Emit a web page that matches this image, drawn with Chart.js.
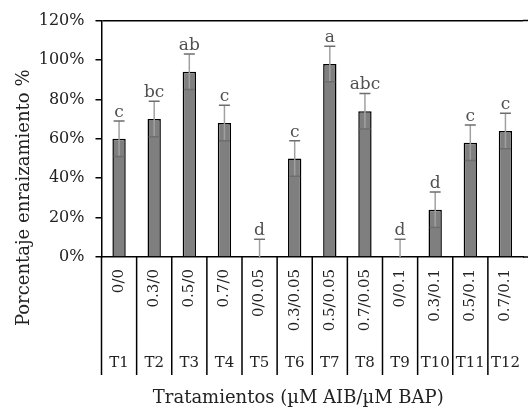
<!DOCTYPE html>
<html>
<head>
<meta charset="utf-8">
<script src="https://cdn.jsdelivr.net/npm/chart.js@4"></script>
<style>
html,body{margin:0;padding:0;background:#fff;}
#wrap{width:528px;height:417px;}
</style>
</head>
<body>
<div id="wrap"><canvas id="c" width="528" height="417"></canvas></div>
<script>
const treatments = ['T1','T2','T3','T4','T5','T6','T7','T8','T9','T10','T11','T12'];
const doses = ['0/0','0.3/0','0.5/0','0.7/0','0/0.05','0.3/0.05','0.5/0.05','0.7/0.05','0/0.1','0.3/0.1','0.5/0.1','0.7/0.1'];
const rooting = [60, 70, 94, 68, 0, 50, 98, 74, 0, 24, 58, 64];
const errors = [9, 9, 9, 9, 9, 9, 9, 9, 9, 9, 9, 9];
const letters = ['c','bc','ab','c','d','c','a','abc','d','d','c','c'];
const yTicks = [0, 20, 40, 60, 80, 100, 120];
const yTitle = 'Porcentaje enraizamiento %';
const xTitle = 'Tratamientos (\u00b5M AIB/\u00b5M BAP)';

const FONT = '"DejaVu Serif", "Liberation Serif", serif';

const excelPlugin = {
  id: 'excelPlugin',
  afterDatasetsDraw(chart) {
    const ctx = chart.ctx;
    const y = chart.scales.y;
    const meta = chart.getDatasetMeta(0);
    ctx.save();
    meta.data.forEach((bar, i) => {
      const cx = bar.x;
      const v = rooting[i], e = errors[i];
      const yTop = y.getPixelForValue(v + e);
      const yLow = y.getPixelForValue(Math.max(0, v - e));
      ctx.strokeStyle = '#a0a0a0';
      ctx.lineWidth = 1.5;
      ctx.beginPath();
      ctx.moveTo(cx, yTop); ctx.lineTo(cx, yLow);
      ctx.stroke();
      ctx.strokeStyle = '#6e6e6e';
      ctx.beginPath();
      ctx.moveTo(cx - 5.5, yTop); ctx.lineTo(cx + 5.5, yTop);
      if (v - e > 0) { ctx.moveTo(cx - 5.5, yLow); ctx.lineTo(cx + 5.5, yLow); }
      ctx.stroke();
      ctx.fillStyle = '#505050';
      ctx.font = '17px ' + FONT;
      ctx.textAlign = 'center';
      ctx.textBaseline = 'alphabetic';
      ctx.fillText(letters[i], cx, yTop - 4);
    });
    ctx.restore();
  },
  afterDraw(chart) {
    const ctx = chart.ctx;
    const x = chart.scales.x;
    const area = chart.chartArea;
    const n = treatments.length;
    const w = (x.getPixelForValue(1) - x.getPixelForValue(0));
    const bottomLines = area.bottom + 118;
    ctx.save();
    ctx.strokeStyle = '#000';
    ctx.lineWidth = 1.5;
    ctx.beginPath();
    for (let i = 0; i < n; i++) {
      const bx = x.getPixelForValue(0) - w / 2 + i * w;
      ctx.moveTo(bx, area.bottom); ctx.lineTo(bx, bottomLines);
    }
    ctx.moveTo(area.right, area.top); ctx.lineTo(chart.width, area.top);
    ctx.moveTo(area.right, area.bottom); ctx.lineTo(chart.width, area.bottom);
    ctx.stroke();

    ctx.fillStyle = '#222';
    ctx.font = '15px ' + FONT;
    for (let i = 0; i < n; i++) {
      const cx = x.getPixelForValue(i);
      ctx.save();
      ctx.translate(cx, area.bottom + 12);
      ctx.rotate(-Math.PI / 2);
      ctx.textAlign = 'right';
      ctx.textBaseline = 'middle';
      ctx.fillText(doses[i], 0, 0);
      ctx.restore();
      ctx.textAlign = 'center';
      ctx.textBaseline = 'middle';
      ctx.fillText(treatments[i], cx, area.bottom + 106);
    }
    ctx.font = '18px ' + FONT;
    ctx.textAlign = 'center';
    ctx.textBaseline = 'middle';
    ctx.fillText(xTitle, (area.left + area.right) / 2 - 14, area.bottom + 141);
    ctx.save();
    ctx.translate(24, (area.top + bottomLines) / 2);
    ctx.rotate(-Math.PI / 2);
    ctx.fillText(yTitle, 0, 0);
    ctx.restore();
    ctx.restore();
  }
};

new Chart(document.getElementById('c'), {
  type: 'bar',
  data: {
    labels: treatments,
    datasets: [{
      data: rooting,
      backgroundColor: '#7f7f7f',
      borderColor: '#000',
      borderWidth: 1.5,
      barPercentage: 0.38,
      categoryPercentage: 1.0
    }]
  },
  options: {
    responsive: false,
    animation: false,
    devicePixelRatio: 1,
    layout: { padding: { top: 19, right: 5, left: 0, bottom: 0 } },
    plugins: { legend: { display: false }, tooltip: { enabled: false } },
    scales: {
      x: {
        type: 'category',
        offset: true,
        grid: { display: false },
        border: { display: true, color: '#000', width: 1.5 },
        ticks: { display: false },
        afterFit(scale) { scale.height = 160; }
      },
      y: {
        min: 0, max: 120,
        afterBuildTicks(scale) { scale.ticks = yTicks.map(v => ({ value: v })); },
        ticks: {
          callback: v => v + '%',
          color: '#222',
          font: { family: FONT, size: 16 },
          padding: 11
        },
        grid: {
          color: c => (c.tick && c.tick.value === 120) ? '#000' : 'rgba(0,0,0,0)',
          tickColor: '#000',
          tickLength: 6,
          lineWidth: 1.5
        },
        border: { display: true, color: '#000', width: 1.5 },
        afterFit(scale) { scale.width = 101.5; }
      }
    }
  },
  plugins: [excelPlugin]
});
</script>
</body>
</html>
